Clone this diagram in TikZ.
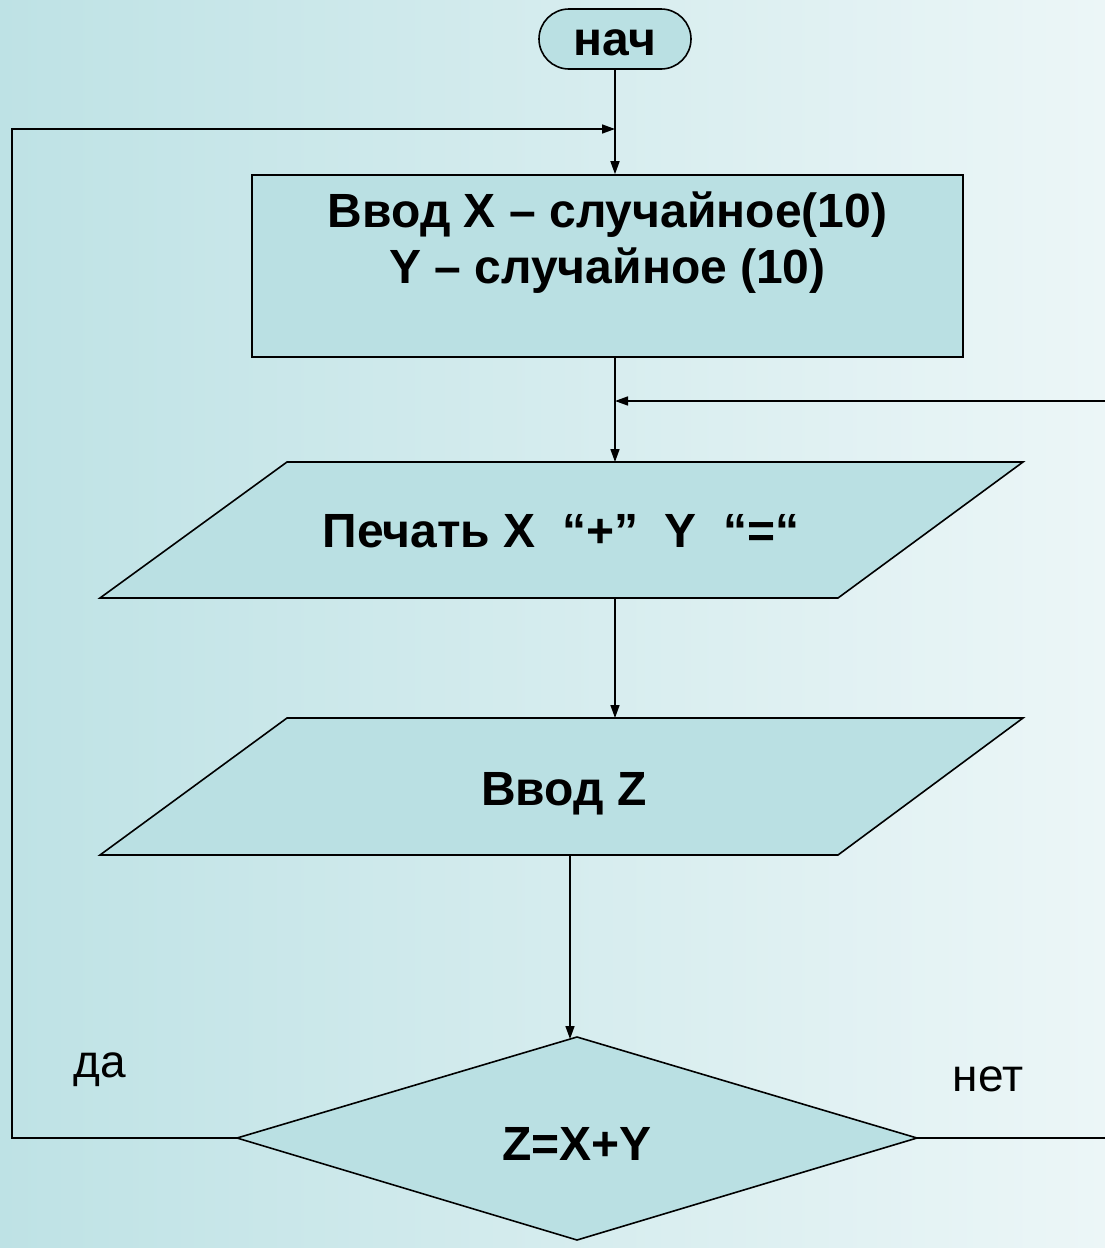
\documentclass[tikz,border=0pt]{standalone}
\usepackage{fontspec}
\setmainfont{Liberation Sans}
\usetikzlibrary{arrows.meta}
\definecolor{bgL}{RGB}{190,226,229}
\definecolor{bgR}{RGB}{236,246,247}
\definecolor{shapefill}{RGB}{186,224,227}
\tikzset{
  shapeline/.style={draw=black, line width=1.6pt, fill=shapefill},
  term/.style={shapeline, rectangle, rounded corners=30pt, minimum width=152pt, minimum height=60pt, inner sep=0pt},
  procbox/.style={shapeline, rectangle, minimum width=711pt, minimum height=182pt, inner sep=0pt},
  btxt/.style={font=\fontsize{48}{56}\selectfont\bfseries, inner sep=0pt, anchor=base},
  ntxt/.style={font=\fontsize{46}{56}\selectfont, inner sep=0pt, anchor=base},
  conn/.style={line width=1.6pt, draw=black},
  arr/.style={conn, -{Triangle[length=13pt,width=9pt]}}
}
\begin{document}
\begin{tikzpicture}[x=1pt,y=-1pt]
\useasboundingbox (0,0) rectangle (1105,1248);
\shade[left color=bgL, right color=bgR] (0,0) rectangle (1105,1248);

% start terminal
\node[term] (start) at (615,39) {};
\node[btxt] (starttxt) at (615,55) {нач};

% input box
\node[procbox] (init) at (607.5,266) {};
\node[btxt] (inittxt1) at (607.5,227) {Ввод X – случайное(10)};
\node[btxt] (inittxt2) at (607.5,283) {Y – случайное (10)};

% parallelogram 1 (print)
\coordinate (p1tl) at (287,462);
\coordinate (p1tr) at (1023,462);
\coordinate (p1br) at (838,598);
\coordinate (p1bl) at (100,598);
\path[shapeline] (p1tl) -- (p1tr) -- (p1br) -- (p1bl) -- cycle;
\coordinate (p1top) at (615,462);
\coordinate (p1bot) at (615,598);
\node[btxt] (printtxt) at (561,547) {Печать X~ “+”~ Y~ “=“};

% parallelogram 2 (input Z)
\coordinate (p2tl) at (287,718);
\coordinate (p2tr) at (1023,718);
\coordinate (p2br) at (838,855);
\coordinate (p2bl) at (100,855);
\path[shapeline] (p2tl) -- (p2tr) -- (p2br) -- (p2bl) -- cycle;
\coordinate (p2top) at (615,718);
\coordinate (p2bot) at (570,855);
\node[btxt] (inztxt) at (564,805) {Ввод Z};

% decision diamond
\coordinate (dtop) at (577,1037);
\coordinate (dleft) at (237,1138);
\coordinate (dright) at (917,1138);
\coordinate (dbot) at (577,1240);
\path[shapeline] (dtop) -- (dright) -- (dbot) -- (dleft) -- cycle;
\coordinate (dentry) at (570,1039);
\node[btxt] (condtxt) at (577,1160) {Z=X+Y};

% labels
\node[ntxt] (yes) at (100,1077) {да};
\node[ntxt] (no) at (988,1091) {нет};

% loop coordinates
\coordinate (lcorner1) at (12,1138);
\coordinate (lcorner2) at (12,129);
\coordinate (ljoin) at (615,129);
\coordinate (rend) at (1105,1138);
\coordinate (rstart) at (1105,401);
\coordinate (rjoin) at (615,401);

% connectors
\draw[arr] (start.south) -- (start.south |- init.north);
\draw[arr] (dleft) -- (lcorner1) -- (lcorner2) -- (ljoin);
\draw[arr] (init.south -| start.south) -- (p1top);
\draw[arr] (rstart) -- (rjoin);
\draw[arr] (p1bot) -- (p2top);
\draw[arr] (p2bot) -- (dentry);
\draw[conn] (dright) -- (rend);
\end{tikzpicture}
\end{document}
